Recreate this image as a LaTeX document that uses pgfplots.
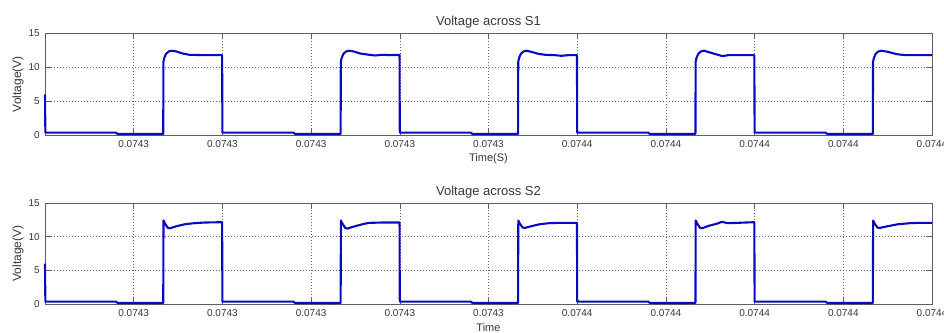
\documentclass[border=0pt]{standalone}
\usepackage{fontspec}
\setmainfont{Liberation Sans}
\usepackage{pgfplots}
\pgfplotsset{compat=1.18}
\definecolor{lineblue}{RGB}{10,10,195}
\definecolor{txt}{RGB}{55,55,55}
\definecolor{frame}{RGB}{95,95,95}
\pgfplotsset{
  matlab/.style={
    scale only axis,
    width=887pt,
    xmin=0, xmax=10, ymin=0, ymax=15,
    xtick={1,2,3,4,5,6,7,8,9,10},
    xticklabels={0.0743,0.0743,0.0743,0.0743,0.0743,0.0744,0.0744,0.0744,0.0744,0.0744},
    ytick={0,5,10,15},
    /pgf/number format/assume math mode=true,
    tick align=inside,
    major tick length=6pt,
    tick style={color=frame, line width=0.6pt},
    axis line style={color=frame, line width=0.7pt},
    grid=major,
    major grid style={color=black!60, line width=0.5pt, dash pattern=on 1pt off 2pt},
    xticklabel style={font=\fontsize{10}{11}\selectfont, text=txt, anchor=center, yshift=-9pt},
    yticklabel style={font=\fontsize{10}{11}\selectfont, text=txt, anchor=east, inner sep=0pt, xshift=-5pt},
    ylabel={Voltage(V)},
    ylabel style={font=\fontsize{12}{13}\selectfont, text=txt, at={(axis description cs:-0.0304,0.5)}, anchor=center},
    xlabel style={font=\fontsize{11}{12}\selectfont, text=txt, at={(axis description cs:0.5,0)}, anchor=center, yshift=-24pt},
    title style={font=\fontsize{13}{14}\selectfont, text=txt, at={(axis description cs:0.5,1)}, anchor=center, yshift=5pt},
    clip=false,
  },
  wave/.style={color=lineblue, line width=2.1pt, line join=round, no marks}
}
\begin{document}
\begin{tikzpicture}[x=1pt,y=1pt]
\useasboundingbox (0,0) rectangle (944,332);
\begin{axis}[matlab, at={(45pt,197pt)}, anchor=south west, height=101.5pt,
  title={Voltage across S1}, xlabel={Time(S)}]
\addplot[wave] coordinates {
(0,6)(0.004,0.35)(0.8,0.35)(0.82,0.15)(1.333,0.15)
(1.335,10.8)(1.345,11.4)(1.365,12.0)(1.395,12.35)(1.43,12.45)(1.48,12.35)(1.55,12.05)(1.63,11.85)(1.8,11.8)(1.997,11.8)(2.0,0.35)
(2.8,0.35)(2.82,0.15)(3.333,0.15)
(3.335,10.8)(3.345,11.4)(3.365,12.0)(3.395,12.35)(3.43,12.45)(3.48,12.35)(3.55,12.05)(3.63,11.9)(3.72,11.75)(3.8,11.85)(3.9,11.8)(3.997,11.85)(4.0,0.35)
(4.8,0.35)(4.82,0.15)(5.333,0.15)
(5.335,10.8)(5.345,11.4)(5.365,12.0)(5.395,12.35)(5.43,12.45)(5.48,12.3)(5.56,12.0)(5.64,11.85)(5.75,11.8)(5.82,11.7)(5.9,11.8)(5.997,11.8)(6.0,0.35)
(6.8,0.35)(6.82,0.15)(7.333,0.15)
(7.335,10.8)(7.345,11.4)(7.365,12.0)(7.395,12.35)(7.43,12.45)(7.52,12.1)(7.64,11.65)(7.7,11.8)(7.997,11.8)(8.0,0.35)
(8.8,0.35)(8.82,0.15)(9.333,0.15)
(9.335,10.8)(9.345,11.4)(9.365,12.0)(9.395,12.35)(9.43,12.45)(9.5,12.3)(9.6,11.95)(9.7,11.8)(10,11.8)
};
\end{axis}
\begin{axis}[matlab, at={(45pt,28pt)}, anchor=south west, height=101pt,
  title={Voltage across S2}, xlabel={Time}]
\addplot[wave] coordinates {
(0,6)(0.004,0.35)(0.8,0.35)(0.82,0.15)(1.333,0.15)
(1.336,12.4)(1.355,11.9)(1.385,11.3)(1.41,11.25)(1.48,11.55)(1.58,11.85)(1.68,12.0)(1.8,12.1)(1.997,12.15)(2.0,0.35)
(2.8,0.35)(2.82,0.15)(3.333,0.15)
(3.336,12.4)(3.355,11.9)(3.385,11.3)(3.41,11.2)(3.48,11.5)(3.58,11.85)(3.65,12.05)(3.8,12.1)(3.997,12.1)(4.0,0.35)
(4.8,0.35)(4.82,0.15)(5.333,0.15)
(5.336,12.4)(5.355,11.9)(5.385,11.35)(5.41,11.3)(5.48,11.55)(5.58,11.85)(5.68,12.0)(5.8,12.05)(5.997,12.05)(6.0,0.35)
(6.8,0.35)(6.82,0.15)(7.333,0.15)
(7.336,12.4)(7.355,11.9)(7.385,11.3)(7.41,11.25)(7.48,11.6)(7.58,11.95)(7.63,12.2)(7.7,12.0)(7.8,12.05)(7.997,12.15)(8.0,0.35)
(8.8,0.35)(8.82,0.15)(9.333,0.15)
(9.336,12.4)(9.355,11.9)(9.385,11.35)(9.41,11.3)(9.5,11.55)(9.62,11.85)(9.75,12.0)(9.85,12.05)(10,12.05)
};
\end{axis}
\end{tikzpicture}
\end{document}
